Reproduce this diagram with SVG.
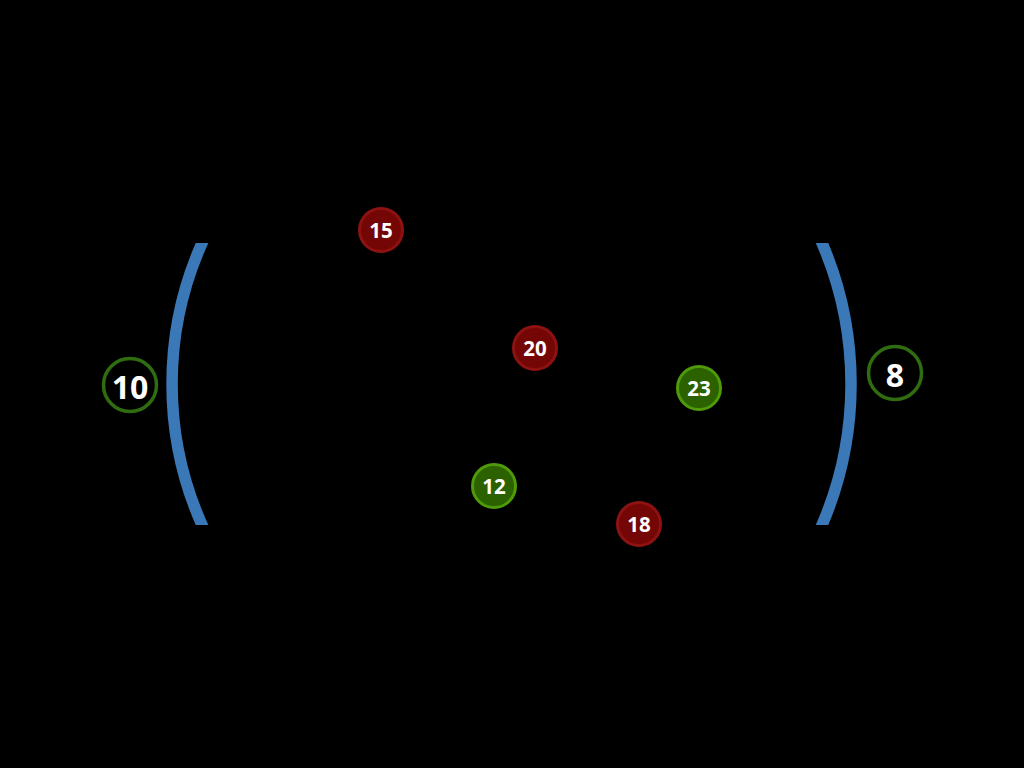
<svg xmlns="http://www.w3.org/2000/svg" width="1024" height="768" viewBox="0 0 1024 768">
<defs>
<clipPath id="bclip"><rect x="0" y="243" width="1024" height="282"/></clipPath>
</defs>
<style>
.bracket{fill:none;stroke:#3b78b8;stroke-width:11.5}
.red circle.body{fill:#750606;stroke:#8e1212;stroke-width:3}
.green circle.body{fill:#2c6100;stroke:#4e9a08;stroke-width:3}
.ring{fill:none;stroke:#2f6d10;stroke-width:3.5}
.lbl{font-family:"Open Sans","Liberation Sans",sans-serif;font-weight:bold;fill:#ffffff;text-anchor:middle;dominant-baseline:central}
.s{font-size:20.5px}
.b{font-size:32px}
</style>
<rect width="1024" height="768" fill="#000"/>
<g id="connectors" clip-path="url(#bclip)">
<path class="bracket" d="M208.2,230 A346,346 0 0 0 208.2,538"/>
<path class="bracket" d="M816.1,230 A357,357 0 0 1 816.1,538"/>
</g>
<g id="n10"><circle class="ring" cx="130" cy="385" r="26.5"/><text class="lbl b" x="130" y="386">10</text></g>
<g id="n8"><circle class="ring" cx="895" cy="373" r="26.5"/><text class="lbl b" x="895" y="374">8</text></g>
<g id="n15" class="red"><circle class="body" cx="381" cy="230" r="21.5"/><text class="lbl s" x="381" y="230">15</text></g>
<g id="n20" class="red"><circle class="body" cx="535" cy="348" r="21.5"/><text class="lbl s" x="535" y="348">20</text></g>
<g id="n23" class="green"><circle class="body" cx="699" cy="388" r="21.5"/><text class="lbl s" x="699" y="388">23</text></g>
<g id="n12" class="green"><circle class="body" cx="494" cy="486" r="21.5"/><text class="lbl s" x="494" y="486">12</text></g>
<g id="n18" class="red"><circle class="body" cx="639" cy="524" r="21.5"/><text class="lbl s" x="639" y="524">18</text></g>
</svg>
